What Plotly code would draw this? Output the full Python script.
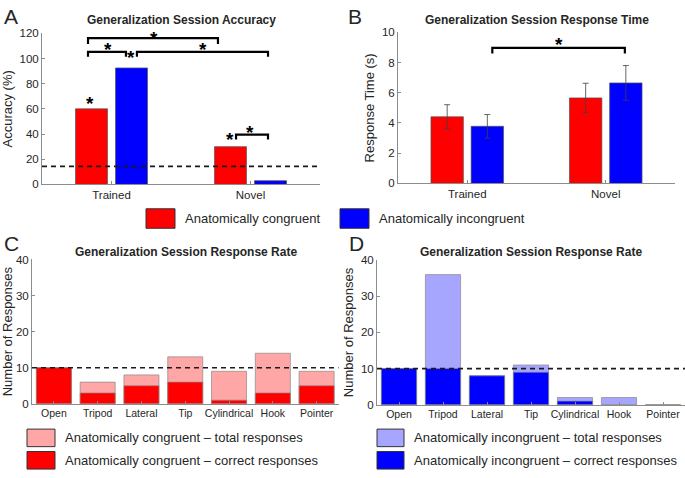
import plotly.graph_objects as go

# ---------------- data ----------------
groups = ["Trained", "Novel"]
acc_congruent = [60, 30]
acc_incongruent = [92.5, 3]
acc_chance = 14.3

rt_congruent = [4.41, 5.66]
rt_incongruent = [3.78, 6.65]
rt_congruent_err = [0.8, 0.97]
rt_incongruent_err = [0.78, 1.15]

grasps = ["Open", "Tripod", "Lateral", "Tip", "Cylindrical", "Hook", "Pointer"]
cong_total = [10, 6, 8, 13, 9, 14, 9]
cong_correct = [10, 3, 5, 6, 1, 3, 5]
incong_total = [10, 36, 8, 11, 2, 2, 0]
incong_correct = [10, 10, 8, 9, 1, 0, 0]
rate_chance = 10

# significance brackets in panel A: (x_left, x_right, y_bar, y_leg_end)
acc_brackets = [(0.831, 1.766, 116.1, 111.5), (0.831, 1.104, 105.3, 101.4),
                (1.183, 2.126, 105.3, 101.4), (1.896, 2.126, 39.5, 35.6)]
acc_stars = [(1.306, 117.3), (0.975, 108.5), (1.658, 108.5), (1.140, 102.5),
             (0.845, 65.5), (1.853, 37.5), (1.996, 43)]
rt_brackets = [(1.181, 2.138, 8.97, 8.6)]
rt_stars = [(1.66, 9.3)]

# ---------------- style ----------------
W, H = 685, 478
FONT = "Liberation Sans, Arial, Helvetica, sans-serif"
RED, BLUE = "#FF0000", "#0000FF"
LRED, LBLUE = "#FFA6A6", "#A6A6FF"
EDGE = "#555555"
AXC = "#8c8c8c"
TXT = "#262626"

def px(x):
    return x / W

def py(y):
    return 1 - y / H

fig = go.Figure()

# Panel A
xg = [1, 2]
bw_a = 0.23
fig.add_trace(go.Bar(x=xg, y=acc_congruent, width=bw_a, offset=-0.144 - bw_a / 2,
                     marker=dict(color=RED, line=dict(color=EDGE, width=0.7)),
                     xaxis="x", yaxis="y", showlegend=False))
fig.add_trace(go.Bar(x=xg, y=acc_incongruent, width=bw_a, offset=0.144 - bw_a / 2,
                     marker=dict(color=BLUE, line=dict(color=EDGE, width=0.7)),
                     xaxis="x", yaxis="y", showlegend=False))

# Panel B
bw_b = 0.234
fig.add_trace(go.Bar(x=xg, y=rt_congruent, width=bw_b, offset=-0.145 - bw_b / 2,
                     marker=dict(color=RED, line=dict(color=EDGE, width=0.7)),
                     xaxis="x2", yaxis="y2", showlegend=False))
fig.add_trace(go.Bar(x=xg, y=rt_incongruent, width=bw_b, offset=0.145 - bw_b / 2,
                     marker=dict(color=BLUE, line=dict(color=EDGE, width=0.7)),
                     xaxis="x2", yaxis="y2", showlegend=False))
# error bars drawn at bar centers
fig.add_trace(go.Scatter(x=[v - 0.145 for v in xg], y=rt_congruent, mode="markers",
                         marker=dict(size=0.1, color="rgba(0,0,0,0)"),
                         error_y=dict(type="data", array=rt_congruent_err, color="#404040",
                                      thickness=0.8, width=3),
                         xaxis="x2", yaxis="y2", showlegend=False, hoverinfo="skip"))
fig.add_trace(go.Scatter(x=[v + 0.145 for v in xg], y=rt_incongruent, mode="markers",
                         marker=dict(size=0.1, color="rgba(0,0,0,0)"),
                         error_y=dict(type="data", array=rt_incongruent_err, color="#404040",
                                      thickness=0.8, width=3),
                         xaxis="x2", yaxis="y2", showlegend=False, hoverinfo="skip"))

# Panel C
xc = list(range(1, len(grasps) + 1))
fig.add_trace(go.Bar(x=xc, y=cong_total, width=0.8,
                     marker=dict(color=LRED, line=dict(color="#8a8a8a", width=0.7)),
                     xaxis="x3", yaxis="y3", showlegend=False))
fig.add_trace(go.Bar(x=xc, y=cong_correct, width=0.8,
                     marker=dict(color=RED, line=dict(color="#8a8a8a", width=0.7)),
                     xaxis="x3", yaxis="y3", showlegend=False))
# Panel D
fig.add_trace(go.Bar(x=xc, y=incong_total, width=0.8,
                     marker=dict(color=LBLUE, line=dict(color="#8a8a8a", width=0.7)),
                     xaxis="x4", yaxis="y4", showlegend=False))
fig.add_trace(go.Bar(x=xc, y=incong_correct, width=0.8,
                     marker=dict(color=BLUE, line=dict(color="#8a8a8a", width=0.7)),
                     xaxis="x4", yaxis="y4", showlegend=False))

tickfont = dict(family=FONT, size=11.5, color=TXT)
labfont = dict(family=FONT, size=13, color=TXT)

def xax(domain, anchor, rng, tickvals, ticktext, fs=11.5):
    return dict(domain=domain, anchor=anchor, range=rng, tickvals=tickvals, ticktext=ticktext,
                showline=True, linecolor=AXC, linewidth=1, ticks="inside", ticklen=3,
                tickcolor=AXC, showgrid=False, zeroline=False,
                tickfont=dict(family=FONT, size=fs, color=TXT), fixedrange=True)

def yax(domain, anchor, rng, dtick, title, standoff):
    return dict(domain=domain, anchor=anchor, range=rng, dtick=dtick,
                showline=True, linecolor=AXC, linewidth=1, ticks="inside", ticklen=3,
                tickcolor=AXC, showgrid=False, zeroline=False, tickfont=tickfont,
                title=dict(text=title, font=labfont, standoff=standoff), fixedrange=True)

layout = dict(
    width=W, height=H, margin=dict(l=0, r=0, t=0, b=0),
    paper_bgcolor="white", plot_bgcolor="white", barmode="overlay",
    font=dict(family=FONT, color=TXT),
    xaxis=xax([px(42), px(320)], "y", [0.5, 2.5], xg, groups),
    yaxis=yax([py(183), py(28)], "x", [0, 120], 20, "Accuracy (%)", 4),
    xaxis2=xax([px(398), px(675)], "y2", [0.5, 2.5], xg, groups),
    yaxis2=yax([py(182), py(27)], "x2", [0, 10], 2, "Response Time (s)", 4),
    xaxis3=xax([px(32), px(338.5)], "y3", [0.5, 7.5], xc, grasps, 10.5),
    yaxis3=yax([py(408), py(260)], "x3", [0, 40], 10, "Number of Responses", 4),
    xaxis4=xax([px(377), px(685)], "y4", [0.5, 7.5], xc, grasps, 10.5),
    yaxis4=yax([py(409), py(260.7)], "x4", [0, 40], 10, "Number of Responses", 4),
)
fig.update_layout(**layout)

shapes = []
ann = []

# chance lines
for xa, ya, val in [("x", "y", acc_chance), ("x3", "y3", rate_chance), ("x4", "y4", rate_chance)]:
    shapes.append(dict(type="line", xref=xa + " domain", yref=ya, x0=0, x1=1, y0=val, y1=val,
                       line=dict(color="#1a1a1a", width=1.6, dash="5px,4px")))

# brackets
def bracket(xa, ya, b):
    x0, x1, yb, yl = b
    return dict(type="path", xref=xa, yref=ya,
                path=f"M {x0} {yl} L {x0} {yb} L {x1} {yb} L {x1} {yl}",
                line=dict(color="black", width=2.2))

for b in acc_brackets:
    shapes.append(bracket("x", "y", b))
for b in rt_brackets:
    shapes.append(bracket("x2", "y2", b))

STAR = dict(family=FONT, size=19, color="black")
for (sx, sy) in acc_stars:
    ann.append(dict(x=sx, y=sy, xref="x", yref="y", text="<b>*</b>", showarrow=False,
                    font=STAR, yanchor="middle", yshift=-2))
for (sx, sy) in rt_stars:
    ann.append(dict(x=sx, y=sy, xref="x2", yref="y2", text="<b>*</b>", showarrow=False,
                    font=STAR, yanchor="middle", yshift=-2))

# titles
for cx, cy, t in [(181, 14, "Generalization Session Accuracy"),
                  (537, 14, "Generalization Session Response Time"),
                  (186, 252, "Generalization Session Response Rate"),
                  (531, 252, "Generalization Session Response Rate")]:
    ann.append(dict(x=px(cx), y=py(cy), xref="paper", yref="paper", text=f"<b>{t}</b>",
                    showarrow=False, font=dict(family=FONT, size=12, color=TXT),
                    xanchor="center", yanchor="middle"))

# panel letters
for lx, ly, t in [(2, 11, "A"), (346, 11, "B"), (2, 244, "C"), (347, 244, "D")]:
    ann.append(dict(x=px(lx), y=py(ly), xref="paper", yref="paper", text=t, showarrow=False,
                    font=dict(family=FONT, size=21, color=TXT), xanchor="left", yanchor="middle"))

# legends (swatch + label)
legend_items = [
    (146, 175, 208, 228, RED, "Anatomically congruent"),
    (340, 369, 208, 228, BLUE, "Anatomically incongruent"),
    (27, 55, 434, 452, LRED, "Anatomically congruent – total responses"),
    (27, 55, 457, 475, RED, "Anatomically congruent – correct responses"),
    (377, 404, 434, 452, LBLUE, "Anatomically incongruent – total responses"),
    (377, 404, 457, 475, BLUE, "Anatomically incongruent – correct responses"),
]
for x0, x1, y0, y1, col, label in legend_items:
    shapes.append(dict(type="rect", xref="paper", yref="paper", x0=px(x0), x1=px(x1),
                       y0=py(y1), y1=py(y0), fillcolor=col, line=dict(color="#333333", width=1)))
    ann.append(dict(x=px(x1 + 8), y=py((y0 + y1) / 2), xref="paper", yref="paper", text=label,
                    showarrow=False, font=dict(family=FONT, size=13, color=TXT),
                    xanchor="left", yanchor="middle"))

fig.update_layout(shapes=shapes, annotations=ann)
fig.write_html("out.html", config={"displayModeBar": False, "staticPlot": True})

# remove the default page margin so the figure sits at the window's top-left corner
with open("out.html", encoding="utf-8") as f:
    html = f.read()
html = html.replace("<head>", "<head><style>html,body{margin:0;padding:0;overflow:hidden;}</style>", 1)
with open("out.html", "w", encoding="utf-8") as f:
    f.write(html)
